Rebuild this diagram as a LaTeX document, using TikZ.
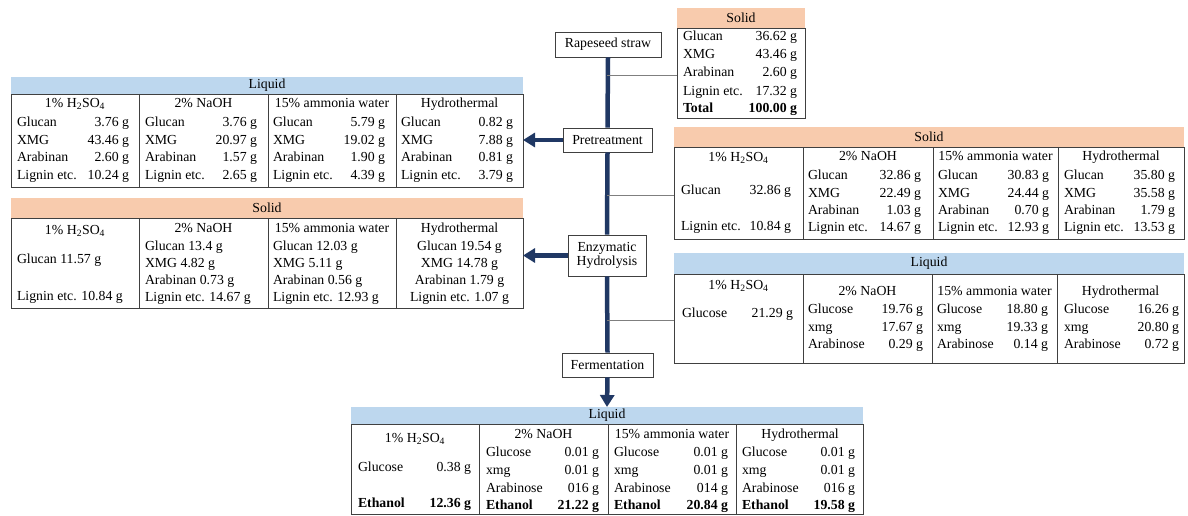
\documentclass[tikz,border=0pt]{standalone}
\usepackage{fontspec}
\setmainfont{Liberation Serif}
\usetikzlibrary{arrows.meta,fit}
\definecolor{navy}{HTML}{203864}
\definecolor{orangeh}{HTML}{F8CBAD}
\definecolor{blueh}{HTML}{BDD7EE}
\definecolor{tabline}{HTML}{404040}
\definecolor{connc}{HTML}{7F7F7F}
\newcounter{tn}
\newcommand{\lv}[5]{\stepcounter{tn}%
  \node[txt,anchor=mid west] (l\arabic{tn}) at (#1,#3) {#4};%
  \node[txt,anchor=mid east] (v\arabic{tn}) at (#2,#3) {#5};}
\newcommand{\ct}[3]{\stepcounter{tn}\node[txt,anchor=mid] (c\arabic{tn}) at (#1,#2) {#3};}
\newcommand{\lt}[3]{\stepcounter{tn}\node[txt,anchor=mid west] (c\arabic{tn}) at (#1,#2) {#3};}
\newcommand{\tbl}[8]{%
  \node[fitbox,fill=#7,fit={(#2,#3)(#5,#4)}] (#1h) {};
  \node[inner sep=0pt] (#1t) at (#1h.center) {#8};
  \node[fitbox,tbody,fit={(#2,#4)(#5,#6)}] (#1) {};}
\newcommand{\hh}{H\textsubscript{2}SO\textsubscript{4}}
\begin{document}
\begin{tikzpicture}[x=1pt,y=-1pt,
  font=\fontsize{13.8}{15.5}\selectfont,
  txt/.style={inner sep=0pt,outer sep=0pt,yshift=-1.2pt},
  fitbox/.style={inner sep=0pt,outer sep=0pt,rectangle},
  tbody/.style={draw=tabline,line width=0.8pt},
  divl/.style={draw=tabline,line width=0.8pt},
  proc/.style={draw=tabline,line width=0.8pt,fill=white,inner sep=0pt,align=center},
  spine/.style={draw=navy,line width=4.5pt},
  flow/.style={draw=navy,line width=4.5pt,-{Triangle[length=12pt,width=14pt]}},
  conn/.style={draw=connc,line width=0.9pt}]
\useasboundingbox (0,0) rectangle (1188,516);

% process boxes
\node[proc,minimum width=106pt,minimum height=25pt] (raw) at (608,44.5) {Rapeseed straw};
\node[proc,minimum width=89pt,minimum height=24pt] (pre) at (607.5,140) {Pretreatment};
\node[proc,minimum width=78pt,minimum height=41pt] (enz) at (607,255.5) {Enzymatic\\[-1pt]Hydrolysis};
\node[proc,minimum width=91pt,minimum height=24pt] (fer) at (607.5,365) {Fermentation};

% tables
\tbl{tr}{677}{8}{28}{805}{118}{orangeh}{Solid}
\tbl{ll}{11}{77}{94}{523}{187}{blueh}{Liquid}
\tbl{ls}{11}{198}{218}{523}{308}{orangeh}{Solid}
\tbl{rs}{674}{127}{147}{1184}{239}{orangeh}{Solid}
\tbl{rl}{674}{253}{274}{1184}{363}{blueh}{Liquid}
\tbl{bl}{351}{407}{424}{863}{514}{blueh}{Liquid}

% spine and arrows
\draw[spine] (raw.south) -- (pre.north);
\draw[spine] (pre.south) -- (enz.north);
\draw[spine] (enz.south) -- (fer.north);
\draw[flow] (fer.south) -- (blh.north);
\draw[flow] (pre.west) -- (ll.east |- pre.west);
\draw[flow] (enz.west) -- (ls.east |- enz.west);

% thin connectors
\coordinate (j1) at (607,75);
\coordinate (j2) at (607,195);
\coordinate (j3) at (607,320);
\draw[conn] (j1) -- (tr.west |- j1);
\draw[conn] (j2) -- (rs.west |- j2);
\draw[conn] (j3) -- (rl.west |- j3);

% ---- top-right solid
\lv{683}{797}{37}{Glucan}{36.62 g}
\lv{683}{797}{55}{XMG}{43.46 g}
\lv{683}{797}{73}{Arabinan}{2.60 g}
\lv{683}{797}{92}{Lignin etc.}{17.32 g}
\lv{683}{797}{109}{\textbf{Total}}{\textbf{100.00 g}}

% ---- left liquid (pretreatment)
\draw[divl] (139,94) -- (139,187);
\draw[divl] (268,94) -- (268,187);
\draw[divl] (396,94) -- (396,187);
\ct{75}{104}{1\% \hh}
\ct{203.5}{104}{2\% NaOH}
\ct{332}{104}{15\% ammonia water}
\ct{459.5}{104}{Hydrothermal}
\lv{17}{129}{123}{Glucan}{3.76 g}
\lv{17}{129}{141}{XMG}{43.46 g}
\lv{17}{129}{158}{Arabinan}{2.60 g}
\lv{17}{129}{176}{Lignin etc.}{10.24 g}
\lv{145}{257}{123}{Glucan}{3.76 g}
\lv{145}{257}{141}{XMG}{20.97 g}
\lv{145}{257}{158}{Arabinan}{1.57 g}
\lv{145}{257}{176}{Lignin etc.}{2.65 g}
\lv{273}{385}{123}{Glucan}{5.79 g}
\lv{273}{385}{141}{XMG}{19.02 g}
\lv{273}{385}{158}{Arabinan}{1.90 g}
\lv{273}{385}{176}{Lignin etc.}{4.39 g}
\lv{401}{513}{123}{Glucan}{0.82 g}
\lv{401}{513}{141}{XMG}{7.88 g}
\lv{401}{513}{158}{Arabinan}{0.81 g}
\lv{401}{513}{176}{Lignin etc.}{3.79 g}

% ---- left solid (enzymatic)
\draw[divl] (139,218) -- (139,308);
\draw[divl] (268,218) -- (268,308);
\draw[divl] (396,218) -- (396,308);
\ct{75}{231}{1\% \hh}
\lt{17}{260}{Glucan 11.57 g}
\lt{17}{297}{Lignin etc. 10.84 g}
\ct{203.5}{229}{2\% NaOH}
\lt{145}{247}{Glucan 13.4 g}
\lt{145}{264}{XMG 4.82 g}
\lt{145}{281}{Arabinan 0.73 g}
\lt{145}{298}{Lignin etc. 14.67 g}
\ct{332}{229}{15\% ammonia water}
\lt{273}{247}{Glucan 12.03 g}
\lt{273}{264}{XMG 5.11 g}
\lt{273}{281}{Arabinan 0.56 g}
\lt{273}{298}{Lignin etc. 12.93 g}
\ct{459.5}{229}{Hydrothermal}
\ct{459.5}{247}{Glucan 19.54 g}
\ct{459.5}{264}{XMG 14.78 g}
\ct{459.5}{281}{Arabinan 1.79 g}
\ct{459.5}{298}{Lignin etc. 1.07 g}

% ---- right solid (pretreatment)
\draw[divl] (803,147) -- (803,239);
\draw[divl] (933,147) -- (933,239);
\draw[divl] (1058,147) -- (1058,239);
\ct{738.5}{158}{1\% \hh}
\lv{681}{791}{191}{Glucan}{32.86 g}
\lv{681}{791}{227}{Lignin etc.}{10.84 g}
\ct{868}{157}{2\% NaOH}
\lv{808}{921}{176}{Glucan}{32.86 g}
\lv{808}{921}{194}{XMG}{22.49 g}
\lv{808}{921}{211}{Arabinan}{1.03 g}
\lv{808}{921}{228}{Lignin etc.}{14.67 g}
\ct{995.5}{157}{15\% ammonia water}
\lv{938}{1049}{176}{Glucan}{30.83 g}
\lv{938}{1049}{194}{XMG}{24.44 g}
\lv{938}{1049}{211}{Arabinan}{0.70 g}
\lv{938}{1049}{228}{Lignin etc.}{12.93 g}
\ct{1121}{157}{Hydrothermal}
\lv{1064}{1175}{176}{Glucan}{35.80 g}
\lv{1064}{1175}{194}{XMG}{35.58 g}
\lv{1064}{1175}{211}{Arabinan}{1.79 g}
\lv{1064}{1175}{228}{Lignin etc.}{13.53 g}

% ---- right liquid (enzymatic)
\draw[divl] (803,274) -- (803,363);
\draw[divl] (932,274) -- (932,363);
\draw[divl] (1057,274) -- (1057,363);
\ct{738.5}{286}{1\% \hh}
\lv{682}{793}{314}{Glucose}{21.29 g}
\ct{867.5}{292}{2\% NaOH}
\lv{808}{923}{310}{Glucose}{19.76 g}
\lv{808}{923}{328}{xmg}{17.67 g}
\lv{808}{923}{345}{Arabinose}{0.29 g}
\ct{994.5}{292}{15\% ammonia water}
\lv{937}{1048}{310}{Glucose}{18.80 g}
\lv{937}{1048}{328}{xmg}{19.33 g}
\lv{937}{1048}{345}{Arabinose}{0.14 g}
\ct{1120.5}{292}{Hydrothermal}
\lv{1064}{1179}{310}{Glucose}{16.26 g}
\lv{1064}{1179}{328}{xmg}{20.80 g}
\lv{1064}{1179}{345}{Arabinose}{0.72 g}

% ---- bottom liquid (fermentation)
\draw[divl] (479,424) -- (479,514);
\draw[divl] (608,424) -- (608,514);
\draw[divl] (736,424) -- (736,514);
\ct{415}{439}{1\% \hh}
\lv{358}{471}{468}{Glucose}{0.38 g}
\lv{358}{471}{504}{\textbf{Ethanol}}{\textbf{12.36 g}}
\ct{543.5}{435}{2\% NaOH}
\lv{486}{599}{453}{Glucose}{0.01 g}
\lv{486}{599}{471}{xmg}{0.01 g}
\lv{486}{599}{489}{Arabinose}{016 g}
\lv{486}{599}{506}{\textbf{Ethanol}}{\textbf{21.22 g}}
\ct{672}{435}{15\% ammonia water}
\lv{614}{728}{453}{Glucose}{0.01 g}
\lv{614}{728}{471}{xmg}{0.01 g}
\lv{614}{728}{489}{Arabinose}{014 g}
\lv{614}{728}{506}{\textbf{Ethanol}}{\textbf{20.84 g}}
\ct{800}{435}{Hydrothermal}
\lv{742}{855}{453}{Glucose}{0.01 g}
\lv{742}{855}{471}{xmg}{0.01 g}
\lv{742}{855}{489}{Arabinose}{016 g}
\lv{742}{855}{506}{\textbf{Ethanol}}{\textbf{19.58 g}}
\end{tikzpicture}
\end{document}
